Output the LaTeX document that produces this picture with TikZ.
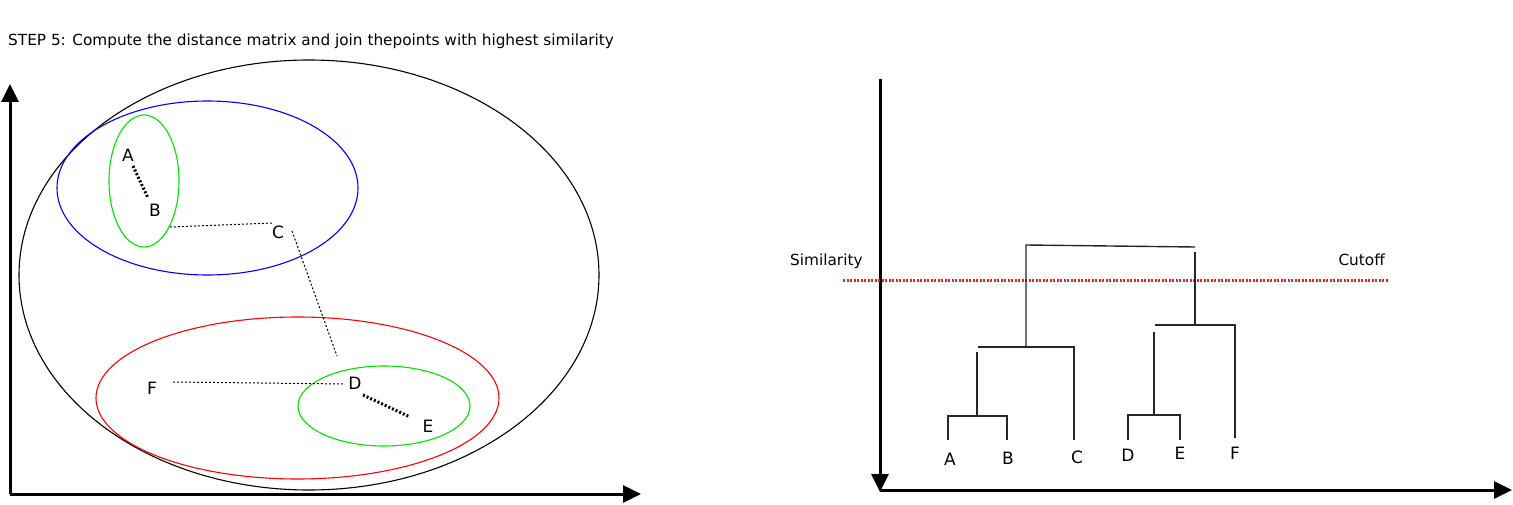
\documentclass[tikz,border=0pt]{standalone}
\usepackage{fontspec}
\setmainfont{DejaVu Sans}
\usetikzlibrary{arrows.meta}
\begin{document}
\begin{tikzpicture}[x=1pt,y=-1pt,
  axis/.style={line width=3pt,-{Triangle[length=18pt,width=17pt]}},
  thickdot/.style={line width=3pt,dash pattern=on 2pt off 2pt},
  thindot/.style={line width=1pt,dash pattern=on 2pt off 2pt},
  lbl/.style={inner sep=0pt,font=\fontsize{17}{20}\selectfont},
  dend/.style={line width=1.4pt,draw=black!85},
  ell/.style={line width=1.1pt}]
\useasboundingbox (0,0) rectangle (1513,505);
% title
\node[anchor=west,inner sep=0pt,font=\fontsize{15.3}{18}\selectfont] (title) at (8,41) {STEP 5: Compute the distance matrix and join thepoints with highest similarity};
% left axes
\coordinate (lo) at (10,494);
\coordinate (ly) at (10,84);
\coordinate (lx) at (641,494);
\draw[axis] (lo) -- (ly);
\draw[axis] (lo) -- (lx);
% ellipses
\draw[ell,black] (309,275) ellipse [x radius=290,y radius=215];
\draw[ell,blue] (207.5,188) ellipse [x radius=150.5,y radius=87];
\draw[ell,green!90!black] (144,181) ellipse [x radius=35,y radius=66];
\draw[ell,red] (297.5,398) ellipse [x radius=201.5,y radius=81];
\draw[ell,green!90!black] (384,406) ellipse [x radius=86,y radius=40];
% labels left
\node[lbl] (A) at (128,155) {A};
\node[lbl] (B) at (155,210) {B};
\node[lbl] (C) at (278,232) {C};
\node[lbl] (D) at (355,383) {D};
\node[lbl] (E) at (428,426) {E};
\node[lbl] (F) at (152,388) {F};
% connectors
\coordinate (ab1) at (133,166); \coordinate (ab2) at (148,198);
\draw[thickdot] (ab1) -- (ab2);
\coordinate (bc1) at (170,227); \coordinate (bc2) at (273,223);
\draw[thindot] (bc1) -- (bc2);
\coordinate (cd1) at (292,231); \coordinate (cd2) at (337,356);
\draw[thindot] (cd1) -- (cd2);
\coordinate (fd1) at (173,382); \coordinate (fd2) at (345,384);
\draw[thindot] (fd1) -- (fd2);
\coordinate (de1) at (363,395); \coordinate (de2) at (410,417);
\draw[thickdot] (de1) -- (de2);
% right axes
\coordinate (ro) at (880,490);
\coordinate (ry) at (880,79);
\coordinate (rx) at (1512,490);
\draw[axis] (ry) -- (880,492);
\draw[axis] (ro) -- (rx);
% cutoff
\node[anchor=west,inner sep=0pt,font=\fontsize{15.3}{18}\selectfont] (sim) at (790,261) {Similarity};
\node[anchor=east,inner sep=0pt,font=\fontsize{15.3}{18}\selectfont] (cut) at (1385,260) {Cutoff};
\coordinate (c1) at (843,280); \coordinate (c2) at (1389,280);
\draw[red!90!white,line width=3pt,dash pattern=on 2pt off 1.5pt] (c1) -- (c2);
% dendrogram
\draw[dend] (1026,347) -- (1026,245) -- (1195,247);
\draw[dend] (1195,252) -- (1195,325);
\draw[dend] (977,416) -- (977,352);
\draw[dend] (978,347) -- (1074,347) -- (1074,440);
\draw[dend] (948,440) -- (948,416) -- (1007,416) -- (1007,440);
\draw[dend] (1154,415) -- (1154,332);
\draw[dend] (1155,325) -- (1235,325) -- (1235,438);
\draw[dend] (1128,440) -- (1128,415) -- (1180,415) -- (1180,440);
\node[lbl] (dA) at (950,459) {A};
\node[lbl] (dB) at (1008,458) {B};
\node[lbl] (dC) at (1077,457) {C};
\node[lbl] (dD) at (1128,455) {D};
\node[lbl] (dE) at (1180,453) {E};
\node[lbl] (dF) at (1235,453) {F};
\end{tikzpicture}
\end{document}
